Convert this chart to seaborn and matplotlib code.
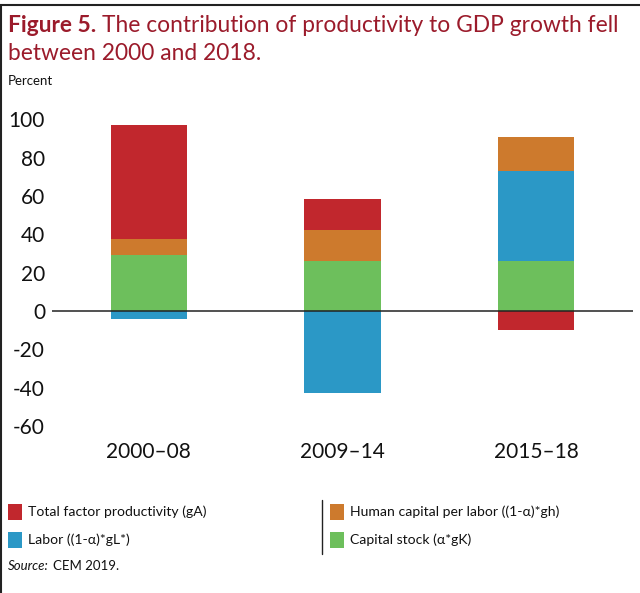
import matplotlib
matplotlib.use("Agg")
import matplotlib.pyplot as plt
import numpy as np
import pandas as pd
import seaborn as sns
from matplotlib.patches import Rectangle
from matplotlib.lines import Line2D

periods = ["2000\u201308", "2009\u201314", "2015\u201318"]
capital = [29.3, 26.2, 26.2]
labor = [-4.0, -42.5, 46.9]
human = [8.4, 16.1, 17.7]
tfp = [59.3, 16.2, -9.7]

series_names = ["Capital stock (\u03b1*gK)", "Labor ((1-\u03b1)*gL*)",
                "Human capital per labor ((1-\u03b1)*gh)", "Total factor productivity (gA)"]
colors = ["#6dbf5c", "#2b98c6", "#cd7a2d", "#c1272d"]
title_red = "#9b1b2b"

df = pd.DataFrame({"period": periods, "capital": capital, "labor": labor,
                   "human": human, "tfp": tfp})

sns.set_theme(style="white")
plt.rcParams["font.family"] = ["Lato", "DejaVu Sans"]
plt.rcParams["axes.unicode_minus"] = False

W, H = 640, 593
fig = plt.figure(figsize=(6.4, 5.93), dpi=100)
ax = fig.add_axes([0.08125, 0.2749, 0.9078, 0.5303])

# stack positives upward and negatives downward
pos_base = np.zeros(len(df))
neg_base = np.zeros(len(df))
for col, c in zip(["capital", "labor", "human", "tfp"], colors):
    vals = df[col].to_numpy()
    bottom = np.where(vals >= 0, pos_base, neg_base)
    sns.barplot(x=df["period"], y=vals, bottom=bottom, color=c, width=0.393,
                saturation=1, ax=ax, linewidth=0)
    pos_base = pos_base + np.clip(vals, 0, None)
    neg_base = neg_base + np.clip(vals, None, 0)

ax.axhline(0, color="#222222", lw=1.1, zorder=5)
ax.set_xlim(-0.5, 2.5)
ax.set_ylim(-62, 102)
ax.set_yticks(range(-60, 101, 20))
ax.tick_params(axis="y", labelsize=15, pad=5, length=0, labelcolor="#111111")
ax.tick_params(axis="x", labelsize=15, pad=9, length=0, labelcolor="#111111")
ax.set_xlabel("")
ax.set_ylabel("")
for s in ax.spines.values():
    s.set_visible(False)

# frame lines
fig.add_artist(Line2D([0.002, 0.002], [0, 0.992], transform=fig.transFigure, color="#222222", lw=1.5))
fig.add_artist(Line2D([0.0, 1.0], [0.992, 0.992], transform=fig.transFigure, color="#222222", lw=1.5))

renderer = fig.canvas.get_renderer()

# title, two runs on the first line
tsize = 16.4
t1 = fig.text(8 / W, 1 - 32 / H, "Figure 5.", fontsize=tsize, fontweight="bold", color=title_red)
x_end = t1.get_window_extent(renderer).x1
fig.text((x_end + 6) / W, 1 - 32 / H, "The contribution of productivity to GDP growth fell",
         fontsize=tsize, color=title_red)
fig.text(8 / W, 1 - 60 / H, "between 2000 and 2018.", fontsize=tsize, color=title_red)
fig.text(8 / W, 1 - 85 / H, "Percent", fontsize=9.5, color="#111111")

# legend
legend_items = [(8, 512, 3), (8, 540, 1), (330, 512, 2), (330, 540, 0)]
for x, y, i in legend_items:
    fig.add_artist(Rectangle((x / W, 1 - (y + 8) / H), 14 / W, 16 / H,
                             transform=fig.transFigure, color=colors[i], lw=0))
    fig.text((x + 20) / W, 1 - y / H, series_names[i], fontsize=10.1,
             va="center", color="#111111")
fig.add_artist(Line2D([322 / W, 322 / W], [1 - 500 / H, 1 - 554 / H],
                      transform=fig.transFigure, color="#222222", lw=1))

s1 = fig.text(8 / W, 1 - 566 / H, "Source:", fontsize=9.5, style="italic", va="center", color="#111111")
x_end = s1.get_window_extent(renderer).x1
fig.text((x_end + 4) / W, 1 - 566 / H, "CEM 2019.", fontsize=9.5, va="center", color="#111111")

fig.savefig("out.png", dpi=100)
